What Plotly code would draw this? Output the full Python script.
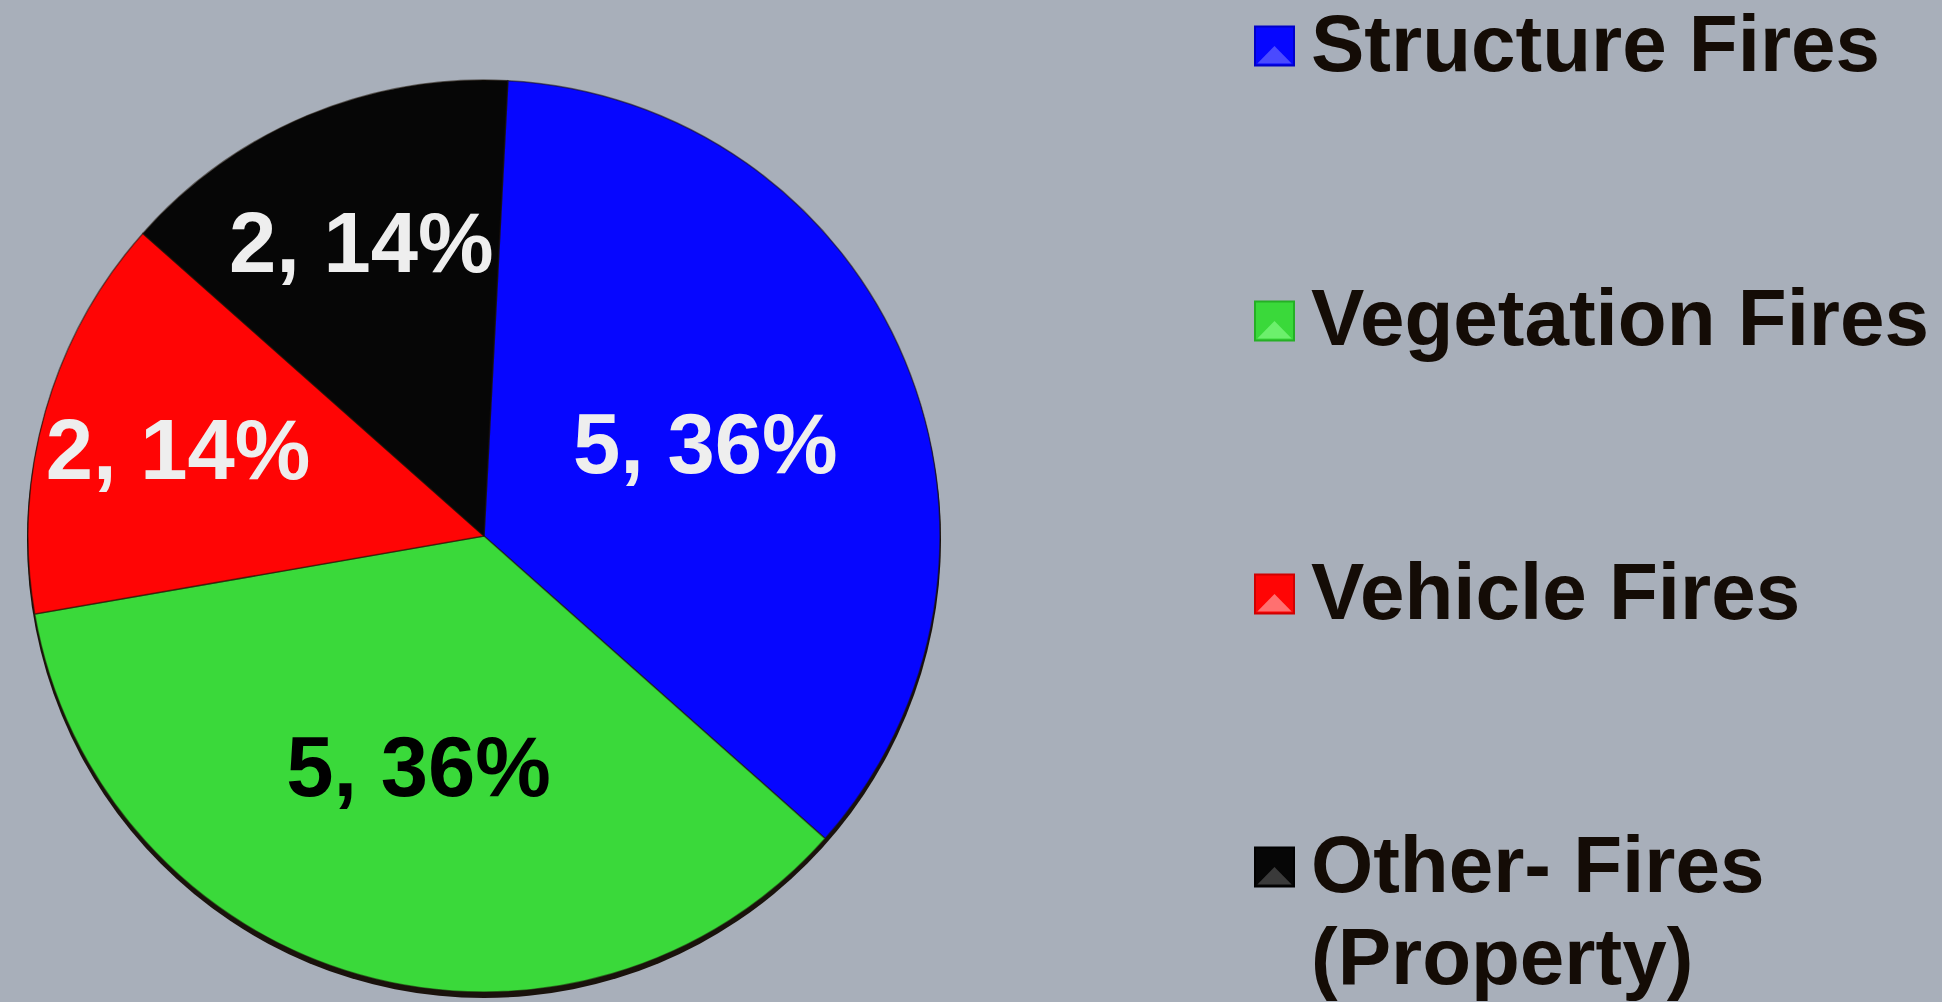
import plotly.graph_objects as go

# ---- data ----
categories = ["Structure Fires", "Vegetation Fires", "Vehicle Fires", "Other- Fires (Property)"]
counts = [5, 5, 2, 2]
slice_colors = ["#0606FF", "#3AD93A", "#FF0505", "#060606"]
label_colors = ["#EEEEEE", "#000000", "#EEEEEE", "#EEEEEE"]
legend_lines = [["Structure Fires"], ["Vegetation Fires"], ["Vehicle Fires"], ["Other- Fires", "(Property)"]]
marker_light = ["#4A4AFF", "#6CF06C", "#FF7070", "#3A3A3A"]
marker_dark = ["#0000C8", "#25B025", "#D00000", "#000000"]

W, H = 1942, 1002
BG = "#A8AFBA"
FONT = "Liberation Sans, Arial, sans-serif"


def fx(x):
    return x / W


def fy(y):
    return 1 - y / H


# pie geometry (pixels)
cx, cy, R = 484, 536, 456

fig = go.Figure()
fig.add_trace(go.Pie(
    labels=categories,
    values=counts,
    sort=False,
    direction="clockwise",
    rotation=3,
    marker=dict(colors=slice_colors, line=dict(color="rgba(30,20,10,0.55)", width=1.5)),
    texttemplate="%{value}, %{percent:.0%}",
    textposition="inside",
    insidetextorientation="horizontal",
    textfont=dict(family=FONT, size=85, color=label_colors, weight="bold"),
    hoverinfo="skip",
    showlegend=False,
    domain=dict(x=[fx(cx - R), fx(cx + R)], y=[fy(cy + R), fy(cy - R)]),
))

shapes = []
# soft shadow under the pie
shapes.append(dict(type="circle", xref="paper", yref="paper", layer="below",
                   x0=fx(cx - R - 1), x1=fx(cx + R + 1), y0=fy(cy + R + 6), y1=fy(cy - R + 2),
                   fillcolor="#1A120C", line=dict(width=0)))

annotations = []
row_centers = [43, 318, 591, 864]
line_gap = 92
msize = 39
mx0 = 1255
for i, cat in enumerate(categories):
    yc = row_centers[i] + 3
    x0, x1 = fx(mx0), fx(mx0 + msize)
    y0, y1 = fy(yc + msize / 2), fy(yc - msize / 2)
    shapes.append(dict(type="rect", xref="paper", yref="paper", x0=x0, x1=x1, y0=y0, y1=y1,
                       fillcolor=slice_colors[i], line=dict(color=marker_dark[i], width=2)))
    xm, ym = (x0 + x1) / 2, (y0 + y1) / 2
    # bevel: lighter bottom triangle
    shapes.append(dict(type="path", xref="paper", yref="paper",
                       path=f"M {x0+0.0012},{y0+0.002} L {x1-0.0012},{y0+0.002} L {xm},{ym} Z",
                       fillcolor=marker_light[i], line=dict(width=0)))
    for j, line in enumerate(legend_lines[i]):
        annotations.append(dict(
            xref="paper", yref="paper", x=fx(1309), y=fy(row_centers[i] + j * line_gap),
            xanchor="left", yanchor="middle", showarrow=False, text=line,
            font=dict(family=FONT, size=80, color="#140C06", weight="bold"),
        ))

fig.update_layout(
    width=W, height=H,
    margin=dict(l=0, r=0, t=0, b=0),
    paper_bgcolor=BG, plot_bgcolor=BG,
    shapes=shapes, annotations=annotations,
    uniformtext=dict(minsize=85, mode="show"),
)

fig.write_html("out.html", config={"displayModeBar": False},
               post_script="document.body.style.margin='0';document.body.style.overflow='hidden';")
